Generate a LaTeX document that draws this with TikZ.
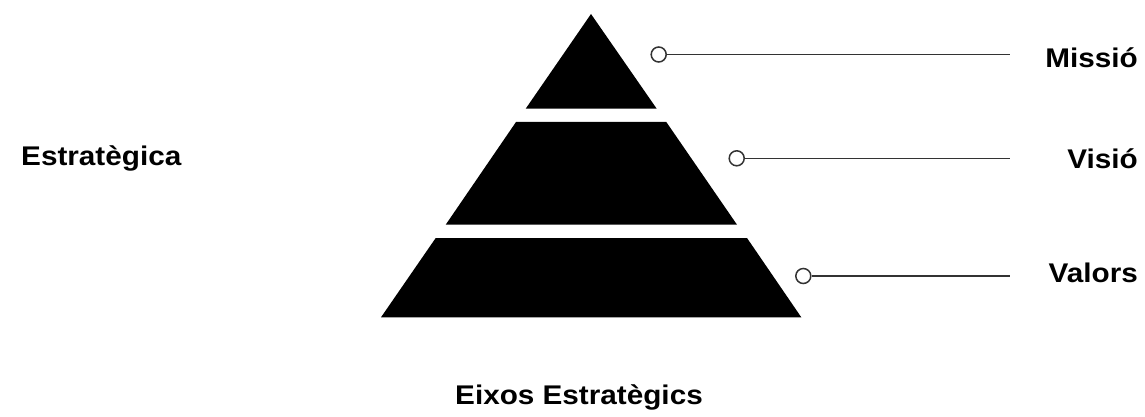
\documentclass[tikz,border=0pt]{standalone}
\usepackage{fontspec}
\setmainfont{Liberation Sans}[FakeStretch=1.1]
\begin{document}
\begin{tikzpicture}[x=1pt,y=-1pt,
  layer/.style={fill=black,draw=none},
  dot/.style={circle,draw=black!80,line width=1.5pt,fill=white,minimum size=15pt,inner sep=0pt},
  leader/.style={draw=black!80,line width=1.5pt},
  lbl/.style={font=\fontsize{27}{32}\selectfont\bfseries,inner sep=0pt}]
\useasboundingbox (0,0) rectangle (1145,417);
% pyramid layers
\fill[layer] (591,14) -- (656.7,108.7) -- (525.7,108.7) -- cycle;
\fill[layer] (516,122) -- (666.3,122) -- (737,224.7) -- (445.7,224.7) -- cycle;
\fill[layer] (435.7,238) -- (747,238) -- (801.3,317.3) -- (381,317.3) -- cycle;
% leaders
\coordinate (e1) at (1010,54.5);
\coordinate (e2) at (1010,158.3);
\coordinate (e3) at (1010,276);
\node[dot] (c1) at (658.7,54.5) {};
\node[dot] (c2) at (736.7,158.3) {};
\node[dot] (c3) at (803.3,276) {};
\draw[leader] (c1) -- (e1);
\draw[leader] (c2) -- (e2);
\draw[leader] (c3) -- (e3);
% labels
\node[lbl,anchor=base east] (m) at (1138,67.3) {Missió};
\node[lbl,anchor=base east] (v) at (1138,168.3) {Visió};
\node[lbl,anchor=base east] (va) at (1138,282.3) {Valors};
\node[lbl,anchor=base west] (es) at (21,165.7) {Estratègica};
\node[lbl,anchor=base] (ei) at (579,404.3) {Eixos Estratègics};
\end{tikzpicture}
\end{document}
